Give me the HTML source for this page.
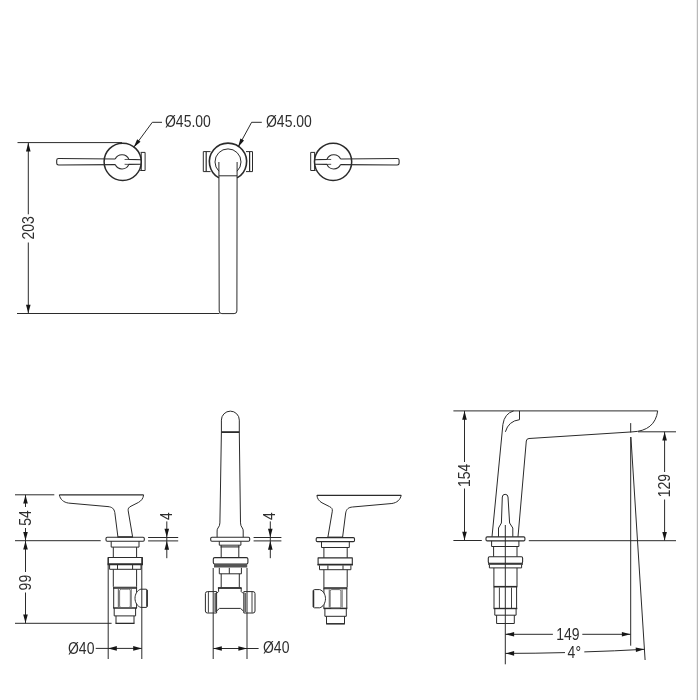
<!DOCTYPE html>
<html lang="en">
<head>
<meta charset="utf-8">
<title>Technical drawing</title>
<style>
html,body{margin:0;padding:0;background:#fff;}
body{width:700px;height:700px;overflow:hidden;}
svg{display:block;will-change:transform;filter:grayscale(1);}
svg text{font-family:"Liberation Sans",sans-serif;fill:#2e2e2e;stroke:none;}
</style>
</head>
<body>
<svg width="700" height="700" viewBox="0 0 700 700" fill="none" stroke="#2b2b2b" stroke-linecap="butt" stroke-linejoin="round">
<rect x="0" y="0" width="700" height="700" fill="#ffffff" stroke="none"/>
<rect x="697" y="0" width="1" height="700" fill="#b9b9b9" stroke="none"/><rect x="696" y="0" width="1" height="700" fill="#efefef" stroke="none"/>
<line x1="17.5" y1="142.6" x2="122" y2="142.6" stroke-width="1"/>
<line x1="17" y1="313.5" x2="219.5" y2="313.5" stroke-width="1"/>
<line x1="28.3" y1="142.6" x2="28.3" y2="214.3" stroke-width="1"/>
<line x1="28.3" y1="242.5" x2="28.3" y2="313.5" stroke-width="1"/>
<polygon points="28.30,142.80 30.60,151.40 26.00,151.40" fill="#161616" stroke="none"/>
<polygon points="28.30,313.30 26.00,304.70 30.60,304.70" fill="#161616" stroke="none"/>
<text x="0" y="0" font-size="15.8" text-anchor="middle" transform="translate(34.3 227.8) rotate(-90) scale(0.885 1)">203</text>
<g>
<circle cx="122.7" cy="161.8" r="18.6" stroke-width="1.5" fill="none"/>
<path d="M115.2,159 L58.6,158.5 Q56.7,158.5 56.7,160.2 L56.7,163.3 Q56.7,165 58.6,165 L115.2,164.6" stroke-width="1.1" fill="none"/>
<path d="M115.2,159 A7.5,7.5 0 0 1 128.9,159.4 L141.2,159.7" stroke-width="1.1" fill="none"/>
<path d="M115.2,164.6 A7.5,7.5 0 0 0 128.9,164.4 L141.2,164.3" stroke-width="1.1" fill="none"/>
<path d="M124.6,159.5 L129,159.4 M124.6,164.3 L129,164.4" stroke-width="0.8" fill="none"/>
<path d="M140.6,152.4 L145.1,152.4 L145.1,170.5 L140.2,170.5" stroke-width="1" fill="none"/>
<line x1="141.3" y1="153" x2="141.3" y2="170" stroke-width="0.9"/>
</g>
<g transform="translate(455.8 0) scale(-1 1)">
<circle cx="122.7" cy="161.8" r="18.6" stroke-width="1.5" fill="none"/>
<path d="M115.2,159 L58.6,158.5 Q56.7,158.5 56.7,160.2 L56.7,163.3 Q56.7,165 58.6,165 L115.2,164.6" stroke-width="1.1" fill="none"/>
<path d="M115.2,159 A7.5,7.5 0 0 1 128.9,159.4 L141.2,159.7" stroke-width="1.1" fill="none"/>
<path d="M115.2,164.6 A7.5,7.5 0 0 0 128.9,164.4 L141.2,164.3" stroke-width="1.1" fill="none"/>
<path d="M124.6,159.5 L129,159.4 M124.6,164.3 L129,164.4" stroke-width="0.8" fill="none"/>
<path d="M140.6,152.4 L145.1,152.4 L145.1,170.5 L140.2,170.5" stroke-width="1" fill="none"/>
<line x1="141.3" y1="153" x2="141.3" y2="170" stroke-width="0.9"/>
</g>
<path d="M218.9,177.91 A18.6,18.6 0 1 1 237.1,177.91" stroke-width="1.6" fill="none"/>
<path d="M218.9,171.18 A13.0,13.0 0 1 1 237.1,171.18" stroke-width="1" fill="none"/>
<line x1="218.9" y1="175.8" x2="237.1" y2="175.8" stroke-width="1"/>
<path d="M218.9,162 L219.20000000000002,311 Q219.20000000000002,313.6 221.9,313.6 L234.1,313.6 Q236.9,313.6 236.9,311 L237.1,162" stroke-width="1" fill="none"/>
<path d="M210.5,151.6 L203.3,151.6 L203.3,171.6 L210.5,171.6" stroke-width="1" fill="none"/>
<line x1="206.2" y1="151.6" x2="206.2" y2="171.6" stroke-width="1.2"/>
<path d="M246,151.6 L252.5,151.6 L252.5,171.6 L246,171.6" stroke-width="1" fill="none"/>
<line x1="249.6" y1="151.6" x2="249.6" y2="171.6" stroke-width="1.2"/>
<path d="M134.4,146.6 L152.3,122.3 L162,122.3" stroke-width="1" fill="none"/>
<polygon points="133.60,147.60 137.18,139.30 140.48,141.74" fill="#161616" stroke="none"/>
<text x="0" y="0" font-size="15.8" text-anchor="start" transform="translate(165 126.8) scale(0.885 1)">Ø45.00</text>
<path d="M238.6,146.2 L251.6,122.3 L261.8,122.3" stroke-width="1" fill="none"/>
<polygon points="238.00,147.20 240.42,138.49 244.02,140.46" fill="#161616" stroke="none"/>
<text x="0" y="0" font-size="15.8" text-anchor="start" transform="translate(266 126.8) scale(0.885 1)">Ø45.00</text>
<line x1="15" y1="494.8" x2="54.3" y2="494.8" stroke-width="1"/>
<line x1="15" y1="540.7" x2="100.7" y2="540.7" stroke-width="1"/>
<line x1="15" y1="623.3" x2="111.6" y2="623.3" stroke-width="1"/>
<line x1="25.5" y1="494.8" x2="25.5" y2="507" stroke-width="1"/>
<line x1="25.5" y1="528" x2="25.5" y2="572" stroke-width="1"/>
<line x1="25.5" y1="592.5" x2="25.5" y2="623.3" stroke-width="1"/>
<polygon points="25.50,495.00 27.80,503.60 23.20,503.60" fill="#161616" stroke="none"/>
<polygon points="25.50,540.50 23.20,531.90 27.80,531.90" fill="#161616" stroke="none"/>
<polygon points="25.50,541.00 27.80,549.60 23.20,549.60" fill="#161616" stroke="none"/>
<polygon points="25.50,623.10 23.20,614.50 27.80,614.50" fill="#161616" stroke="none"/>
<text x="0" y="0" font-size="15.8" text-anchor="middle" transform="translate(30.6 518) rotate(-90) scale(0.885 1)">54</text>
<text x="0" y="0" font-size="15.8" text-anchor="middle" transform="translate(30.6 582.6) rotate(-90) scale(0.885 1)">99</text>
<g>
<path d="M59.3,494.9 L143.6,494.9" stroke-width="1.2" fill="none"/>
<path d="M59.3,494.9 C60.3,499.5 63.5,502.3 68.6,503.1 L108,506.6 C112,507 114,508.5 114.8,512.5 L117.9,536.8" stroke-width="1" fill="none"/>
<path d="M143.6,494.9 C143.2,498.5 141.5,500.6 138.5,502.4 L131,506.2 C128.6,507.4 127.9,508.6 128.2,510.8 L132.6,536.8" stroke-width="1" fill="none"/>
<rect x="106.00" y="537.20" width="38.30" height="4.00" rx="1.2" stroke-width="1.1" fill="none"/>
<line x1="117.5" y1="536.9" x2="133" y2="536.9" stroke-width="1.4"/>
<path d="M111.2,541.2 L111.2,547.1 L139,547.1 L139,541.2" stroke-width="1" fill="none"/>
<path d="M113.3,547.1 L113.3,557.5 M136.6,547.1 L136.6,557.5" stroke-width="1" fill="none"/>
<rect x="108.20" y="557.50" width="34.20" height="6.50" rx="0" stroke-width="1.1" fill="none"/>
<line x1="107.6" y1="564.4" x2="143" y2="564.4" stroke-width="1.6"/>
<path d="M109.6,565 L109.6,569.3 L141,569.3 L141,565" stroke-width="1" fill="none"/>
<line x1="117.5" y1="565" x2="117.5" y2="569.3" stroke-width="1"/>
<line x1="132.6" y1="565" x2="132.6" y2="569.3" stroke-width="1"/>
<path d="M113.3,569.3 L113.3,586.8 M136.6,569.3 L136.6,586.8" stroke-width="1" fill="none"/>
<line x1="113.2" y1="587.8" x2="137" y2="587.8" stroke-width="2.2" stroke="#4a4a4a"/>
<line x1="113.2" y1="608" x2="137" y2="608" stroke-width="1.5"/>
<path d="M113.7,587 L113.7,608 M136.6,587 L136.6,608" stroke-width="1" fill="none"/>
<path d="M118.4,589 L118.4,607.3 M131.2,589 L131.2,607.3" stroke-width="1.2" fill="none" stroke="#777"/>
<rect x="119.60" y="589.20" width="10.70" height="18.40" rx="1.6" stroke-width="0.9" fill="none" stroke="#666"/>
<path d="M140.8,589.2 C137.4,590.2 135,594 135,598.3 C135,602.6 137.4,606.4 140.8,607.4 L146,607.4 Q147.2,607.4 147.2,606.2 L147.2,590.4 Q147.2,589.2 146,589.2 Z" stroke-width="1" fill="#fff"/>
<line x1="147" y1="590" x2="147" y2="606.6" stroke-width="1.5"/>
<path d="M114.2,608 L114.2,615.9 L135.6,615.9 L135.6,608" stroke-width="1" fill="none"/>
<path d="M116,615.9 L116,623.4 L134,623.4 L134,615.9" stroke-width="1" fill="none"/>
<line x1="115.5" y1="623.4" x2="134.5" y2="623.4" stroke-width="1.2"/>
</g>
<g transform="translate(460.5 0.4) scale(-1 1)">
<path d="M59.3,494.9 L143.6,494.9" stroke-width="1.2" fill="none"/>
<path d="M59.3,494.9 C60.3,499.5 63.5,502.3 68.6,503.1 L108,506.6 C112,507 114,508.5 114.8,512.5 L117.9,536.8" stroke-width="1" fill="none"/>
<path d="M143.6,494.9 C143.2,498.5 141.5,500.6 138.5,502.4 L131,506.2 C128.6,507.4 127.9,508.6 128.2,510.8 L132.6,536.8" stroke-width="1" fill="none"/>
<rect x="106.00" y="537.20" width="38.30" height="4.00" rx="1.2" stroke-width="1.1" fill="none"/>
<line x1="117.5" y1="536.9" x2="133" y2="536.9" stroke-width="1.4"/>
<path d="M111.2,541.2 L111.2,547.1 L139,547.1 L139,541.2" stroke-width="1" fill="none"/>
<path d="M113.3,547.1 L113.3,557.5 M136.6,547.1 L136.6,557.5" stroke-width="1" fill="none"/>
<rect x="108.20" y="557.50" width="34.20" height="6.50" rx="0" stroke-width="1.1" fill="none"/>
<line x1="107.6" y1="564.4" x2="143" y2="564.4" stroke-width="1.6"/>
<path d="M109.6,565 L109.6,569.3 L141,569.3 L141,565" stroke-width="1" fill="none"/>
<line x1="117.5" y1="565" x2="117.5" y2="569.3" stroke-width="1"/>
<line x1="132.6" y1="565" x2="132.6" y2="569.3" stroke-width="1"/>
<path d="M113.3,569.3 L113.3,586.8 M136.6,569.3 L136.6,586.8" stroke-width="1" fill="none"/>
<line x1="113.2" y1="587.8" x2="137" y2="587.8" stroke-width="2.2" stroke="#4a4a4a"/>
<line x1="113.2" y1="608" x2="137" y2="608" stroke-width="1.5"/>
<path d="M113.7,587 L113.7,608 M136.6,587 L136.6,608" stroke-width="1" fill="none"/>
<path d="M118.4,589 L118.4,607.3 M131.2,589 L131.2,607.3" stroke-width="1.2" fill="none" stroke="#777"/>
<rect x="119.60" y="589.20" width="10.70" height="18.40" rx="1.6" stroke-width="0.9" fill="none" stroke="#666"/>
<path d="M140.8,589.2 C137.4,590.2 135,594 135,598.3 C135,602.6 137.4,606.4 140.8,607.4 L146,607.4 Q147.2,607.4 147.2,606.2 L147.2,590.4 Q147.2,589.2 146,589.2 Z" stroke-width="1" fill="#fff"/>
<line x1="147" y1="590" x2="147" y2="606.6" stroke-width="1.5"/>
<path d="M114.2,608 L114.2,615.9 L135.6,615.9 L135.6,608" stroke-width="1" fill="none"/>
<path d="M116,615.9 L116,623.4 L134,623.4 L134,615.9" stroke-width="1" fill="none"/>
<line x1="115.5" y1="623.4" x2="134.5" y2="623.4" stroke-width="1.2"/>
</g>
<line x1="108.2" y1="557.5" x2="108.2" y2="659" stroke-width="1"/>
<line x1="141.8" y1="557.5" x2="141.8" y2="659" stroke-width="1"/>
<line x1="95.7" y1="648.4" x2="141.8" y2="648.4" stroke-width="1"/>
<polygon points="108.20,648.40 116.80,646.10 116.80,650.70" fill="#161616" stroke="none"/>
<polygon points="141.80,648.40 133.20,650.70 133.20,646.10" fill="#161616" stroke="none"/>
<text x="0" y="0" font-size="15.8" text-anchor="start" transform="translate(68 653.6) scale(0.885 1)">Ø40</text>
<line x1="148.1" y1="537.5" x2="178.2" y2="537.5" stroke-width="1"/>
<line x1="148.1" y1="540.9" x2="178.2" y2="540.9" stroke-width="1"/>
<line x1="166.8" y1="521.4" x2="166.8" y2="558.2" stroke-width="1"/>
<polygon points="166.80,537.30 164.50,528.70 169.10,528.70" fill="#161616" stroke="none"/>
<polygon points="166.80,541.10 169.10,549.70 164.50,549.70" fill="#161616" stroke="none"/>
<text x="0" y="0" font-size="15.8" text-anchor="middle" transform="translate(171.8 516) rotate(-90) scale(0.885 1)">4</text>
<line x1="253.6" y1="537.5" x2="281.4" y2="537.5" stroke-width="1"/>
<line x1="253.6" y1="540.9" x2="281.4" y2="540.9" stroke-width="1"/>
<line x1="270.3" y1="521.4" x2="270.3" y2="558.2" stroke-width="1"/>
<polygon points="270.30,537.30 268.00,528.70 272.60,528.70" fill="#161616" stroke="none"/>
<polygon points="270.30,541.10 272.60,549.70 268.00,549.70" fill="#161616" stroke="none"/>
<text x="0" y="0" font-size="15.8" text-anchor="middle" transform="translate(275.3 516) rotate(-90) scale(0.885 1)">4</text>
<path d="M221.4,432 L221.4,420.1 A8.95,8.95 0 0 1 239.3,420.1 L239.3,432" stroke-width="1" fill="none"/>
<line x1="221.4" y1="432.1" x2="239.3" y2="432.1" stroke-width="1.8"/>
<path d="M221.4,432 L219.9,522.9 Q219.8,526 218,528 Q217.1,529 217.1,531 L217.1,537.2" stroke-width="1" fill="none"/>
<path d="M239.3,432 L240.5,522.9 Q240.6,526 242.3,528 Q243.2,529 243.2,531 L243.2,537.2" stroke-width="1" fill="none"/>
<rect x="210.70" y="537.20" width="39.00" height="4.10" rx="1.2" stroke-width="1.1" fill="none"/>
<path d="M219.3,541.3 L219.3,545.2 L240.9,545.2 L240.9,541.3" stroke-width="1" fill="none"/>
<line x1="220.5" y1="546.6" x2="239.5" y2="546.6" stroke-width="2.2" stroke="#777"/>
<path d="M221.2,545.2 L221.2,557.6 M238.8,545.2 L238.8,557.6" stroke-width="1" fill="none"/>
<rect x="213.30" y="557.60" width="34.60" height="6.40" rx="1.5" stroke-width="1.1" fill="none"/>
<line x1="214" y1="565.8" x2="247.2" y2="565.8" stroke-width="3.4" stroke="#555"/>
<path d="M219.3,567.8 L219.3,573.8 L241.4,573.8 L241.4,567.8" stroke-width="1" fill="none"/>
<line x1="229.3" y1="567.8" x2="229.3" y2="573.8" stroke-width="1"/>
<path d="M221.2,573.8 L221.2,587.4 M239.3,573.8 L239.3,587.4" stroke-width="1" fill="none"/>
<line x1="217.9" y1="588" x2="241.6" y2="588" stroke-width="1.8"/>
<path d="M218.6,588 L218.6,591.5 L216.6,593.5 M241.2,588 L241.2,591.5 L243.2,593.5" stroke-width="1" fill="none"/>
<path d="M216.6,611 L219.5,608.4 L240.5,608.4 L243.4,611" stroke-width="1" fill="none"/>
<g>
<path d="M216.6,591.6 L207.4,591.6 Q205.4,591.6 205.4,593.6 L205.4,611 Q205.4,613 207.4,613 L216.6,613 Z" stroke-width="1" fill="none"/>
<line x1="208.4" y1="592" x2="208.4" y2="612.6" stroke-width="0.9"/>
<line x1="215.2" y1="593" x2="215.2" y2="612" stroke-width="1.6" stroke="#666"/>
</g>
<g transform="translate(460.4 0) scale(-1 1)">
<path d="M216.6,591.6 L207.4,591.6 Q205.4,591.6 205.4,593.6 L205.4,611 Q205.4,613 207.4,613 L216.6,613 Z" stroke-width="1" fill="none"/>
<line x1="208.4" y1="592" x2="208.4" y2="612.6" stroke-width="0.9"/>
<line x1="215.2" y1="593" x2="215.2" y2="612" stroke-width="1.6" stroke="#666"/>
</g>
<line x1="213.2" y1="568" x2="213.2" y2="659" stroke-width="1"/>
<line x1="247" y1="568" x2="247" y2="659" stroke-width="1"/>
<line x1="213.2" y1="648.5" x2="258.6" y2="648.5" stroke-width="1"/>
<polygon points="213.20,648.50 221.80,646.20 221.80,650.80" fill="#161616" stroke="none"/>
<polygon points="247.00,648.50 238.40,650.80 238.40,646.20" fill="#161616" stroke="none"/>
<text x="0" y="0" font-size="15.8" text-anchor="start" transform="translate(263 653.4) scale(0.885 1)">Ø40</text>
<line x1="453.4" y1="410.9" x2="657.7" y2="410.9" stroke-width="1"/>
<line x1="453.4" y1="540.5" x2="481.8" y2="540.5" stroke-width="1"/>
<line x1="528.8" y1="540.7" x2="676" y2="540.7" stroke-width="1"/>
<line x1="464.5" y1="410.9" x2="464.5" y2="462" stroke-width="1"/>
<line x1="464.5" y1="488.5" x2="464.5" y2="540.5" stroke-width="1"/>
<polygon points="464.50,411.10 466.80,419.70 462.20,419.70" fill="#161616" stroke="none"/>
<polygon points="464.50,540.30 462.20,531.70 466.80,531.70" fill="#161616" stroke="none"/>
<text x="0" y="0" font-size="15.8" text-anchor="middle" transform="translate(469.7 475.4) rotate(-90) scale(0.885 1)">154</text>
<line x1="638" y1="431.8" x2="676" y2="431.8" stroke-width="1"/>
<line x1="664.6" y1="431.8" x2="664.6" y2="472" stroke-width="1"/>
<line x1="664.6" y1="499.5" x2="664.6" y2="540.7" stroke-width="1"/>
<polygon points="664.60,432.00 666.90,440.60 662.30,440.60" fill="#161616" stroke="none"/>
<polygon points="664.60,540.50 662.30,531.90 666.90,531.90" fill="#161616" stroke="none"/>
<text x="0" y="0" font-size="15.8" text-anchor="middle" transform="translate(669.8 485.7) rotate(-90) scale(0.885 1)">129</text>
<path d="M513.6,410.9 Q504.5,413.5 502.9,424.4 L492,536.8" stroke-width="1" fill="none"/>
<path d="M519.5,410.9 L519.5,419.7 Q508.5,421 505.4,431.8" stroke-width="1" fill="none"/>
<path d="M518,536.8 L526.3,441 Q526.6,438.6 529,438.5 L632,431.9 Q655,431 657.7,410.9" stroke-width="1" fill="none"/>
<line x1="630.7" y1="423.1" x2="630.7" y2="432.5" stroke-width="1"/>
<line x1="630.7" y1="437" x2="630.7" y2="645.7" stroke-width="1"/>
<line x1="630.9" y1="437" x2="645.1" y2="660" stroke-width="1"/>
<path d="M502.3,497 Q502.5,494.3 505.1,494.3 Q507.8,494.3 508,497 L509.6,523 L512.8,528 L512.8,536.8 M502.3,497 L501.4,523 L498.5,528 L498.5,536.8" stroke-width="1" fill="none"/>
<line x1="505.3" y1="525" x2="505.3" y2="664.3" stroke-width="1"/>
<rect x="486.00" y="536.90" width="38.90" height="4.00" rx="1.2" stroke-width="1.1" fill="none"/>
<path d="M491.6,540.9 L491.6,546.5 L518.9,546.5 L518.9,540.9" stroke-width="1" fill="none"/>
<path d="M493.6,546.5 L493.6,556.7 M517,546.5 L517,556.7" stroke-width="1" fill="none"/>
<rect x="488.30" y="556.70" width="34.30" height="6.50" rx="1.2" stroke-width="1.1" fill="none"/>
<line x1="488" y1="564" x2="523" y2="564" stroke-width="1.6"/>
<path d="M489.4,564.5 L489.4,567.9 L521.6,567.9 L521.6,564.5" stroke-width="1" fill="none"/>
<path d="M493.9,567.9 L493.9,586.5 M517,567.9 L517,586.5" stroke-width="1" fill="none"/>
<line x1="493.6" y1="586.7" x2="517.3" y2="586.7" stroke-width="1.6"/>
<line x1="493.6" y1="608.5" x2="517.3" y2="608.5" stroke-width="1.4"/>
<path d="M494,586.7 L494,608.5 M516.6,586.7 L516.6,608.5" stroke-width="1" fill="none"/>
<path d="M499.4,587.5 L499.4,608 M511.5,587.5 L511.5,608" stroke-width="0.9" fill="none"/>
<path d="M494.8,608.5 L494.8,615.2 L516.1,615.2 L516.1,608.5" stroke-width="1" fill="none"/>
<path d="M496.6,615.2 L496.6,623.5 L514.3,623.5 L514.3,615.2" stroke-width="1" fill="none"/>
<line x1="505.3" y1="634.3" x2="552.9" y2="634.3" stroke-width="1"/>
<line x1="582.3" y1="634.3" x2="630.7" y2="634.3" stroke-width="1"/>
<polygon points="505.50,634.30 514.10,632.00 514.10,636.60" fill="#161616" stroke="none"/>
<polygon points="630.50,634.30 621.90,636.60 621.90,632.00" fill="#161616" stroke="none"/>
<text x="0" y="0" font-size="15.8" text-anchor="middle" transform="translate(567.8 639.5) scale(0.885 1)">149</text>
<path d="M505.3,653.4 Q535,653.4 565,652.6" stroke-width="1" fill="none"/>
<path d="M584.3,651.9 Q615,651 644.5,649.3" stroke-width="1" fill="none"/>
<polygon points="505.50,653.40 514.10,651.10 514.10,655.70" fill="#161616" stroke="none"/>
<polygon points="644.40,649.30 635.93,652.05 635.69,647.45" fill="#161616" stroke="none"/>
<text x="0" y="0" font-size="15.8" text-anchor="middle" transform="translate(574.3 658.4) scale(0.885 1)">4°</text>
</svg>
</body>
</html>
